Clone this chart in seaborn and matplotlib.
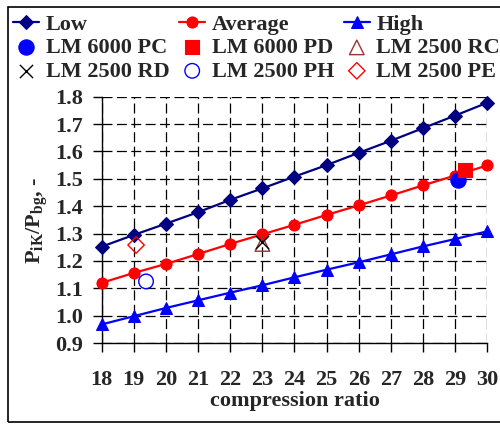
import matplotlib
matplotlib.use("Agg")
import matplotlib.pyplot as plt
import seaborn as sns
import numpy as np
import pandas as pd
from matplotlib.patches import Rectangle

# ---- data ----
ratio = [18, 19, 20, 21, 22, 23, 24, 25, 26, 27, 28, 29, 30]
low = [1.252, 1.295, 1.336, 1.378, 1.423, 1.465, 1.508, 1.550, 1.595, 1.639, 1.685, 1.731, 1.778]
average = [1.120, 1.156, 1.189, 1.225, 1.262, 1.297, 1.332, 1.368, 1.403, 1.439, 1.476, 1.512, 1.549]
high = [0.968, 0.998, 1.028, 1.056, 1.084, 1.111, 1.140, 1.168, 1.195, 1.224, 1.253, 1.280, 1.308]

engines = ["LM 6000 PC", "LM 6000 PD", "LM 2500 RC", "LM 2500 RD", "LM 2500 PH", "LM 2500 PE"]
engine_x = [29.08, 29.3, 23.0, 23.0, 19.38, 19.07]
engine_y = [1.497, 1.532, 1.262, 1.268, 1.125, 1.258]

yticks = [0.9, 1.0, 1.1, 1.2, 1.3, 1.4, 1.5, 1.6, 1.7, 1.8]

sns.set_theme(style="white")
plt.rcParams['font.family'] = ['Liberation Serif', 'DejaVu Serif']
plt.rcParams['font.weight'] = 'bold'
plt.rcParams['mathtext.fontset'] = 'custom'
plt.rcParams['mathtext.rm'] = 'Liberation Serif:bold'
plt.rcParams['mathtext.it'] = 'Liberation Serif:bold'
plt.rcParams['mathtext.bf'] = 'Liberation Serif:bold'

FS = 16

fig = plt.figure(figsize=(5.0, 4.24), dpi=100)
ax = fig.add_axes([0.2034, 0.191, 0.7712, 0.581])

df = pd.DataFrame({"ratio": ratio, "Low": low, "Average": average, "High": high})
series = [("Low", "#000080", "D", 7), ("Average", "#FF0000", "o", 8), ("High", "#0000FF", "^", 8.5)]
for name, col, mk, ms in series:
    sns.lineplot(data=df, x="ratio", y=name, ax=ax, color=col, marker=mk, markersize=ms,
                 markeredgecolor=col, linewidth=1.6, label=name, clip_on=False, zorder=3)

styles = [
    dict(marker="o", s=120, color="#0000FF", edgecolor="#0000FF"),
    dict(marker="s", s=100, color="#FF0000", edgecolor="#FF0000"),
    dict(marker="^", s=110, facecolor="none", edgecolor="#993333", linewidth=1),
    dict(marker="x", s=90, color="black", linewidth=1),
    dict(marker="o", s=110, facecolor="none", edgecolor="#0000FF", linewidth=1),
    dict(marker="D", s=70, facecolor="none", edgecolor="#FF0000", linewidth=1),
]
for name, x, y, st in zip(engines, engine_x, engine_y, styles):
    sns.scatterplot(x=[x], y=[y], ax=ax, label=name, clip_on=False, zorder=4, **st)

ax.set_xlim(18, 30)
ax.set_ylim(0.9, 1.8)
ax.set_xticks(ratio)
ax.set_yticks(yticks)
ax.set_yticklabels([f"{v:.1f}" for v in yticks])
ax.grid(True, color="black", linestyle=(0, (8, 3.5)), linewidth=0.9)
for s in ["top", "right"]:
    ax.spines[s].set_visible(False)
for s in ["left", "bottom"]:
    ax.spines[s].set_color("black")
    ax.spines[s].set_linewidth(1)
ax.tick_params(axis="both", direction="out", length=6.5, width=1, color="black",
               labelsize=FS, bottom=True, left=True)
ax.tick_params(axis="x", pad=13)
ax.tick_params(axis="y", pad=7)
for lab in ax.get_xticklabels() + ax.get_yticklabels():
    lab.set_fontweight("bold")
ax.set_xlabel("compression ratio", fontsize=FS, fontweight="bold", labelpad=1)
ax.set_ylabel(r"P$_{\mathrm{iK}}$/P$_{\mathrm{bg}}$, -", fontsize=FS, fontweight="bold", labelpad=4)

h, l = ax.get_legend_handles_labels()
ax.get_legend().remove()
d = dict(zip(l, h))
order = ["Low", "LM 6000 PC", "LM 2500 RD", "Average", "LM 6000 PD", "LM 2500 PH",
         "High", "LM 2500 RC", "LM 2500 PE"]
fig.legend([d[k] for k in order], order, ncol=3, loc="upper left",
           bbox_to_anchor=(0.018, 0.977), frameon=False,
           handlelength=1.15, handletextpad=0.3, columnspacing=0.45,
           labelspacing=0.13, borderaxespad=0, borderpad=0.2,
           prop={"weight": "bold", "size": FS})

fig.patches.append(Rectangle((8 / 500, 2 / 424), 1.0, 415 / 424, transform=fig.transFigure,
                             fill=False, edgecolor="black", linewidth=1.2))

fig.savefig("out.png", dpi=100)
